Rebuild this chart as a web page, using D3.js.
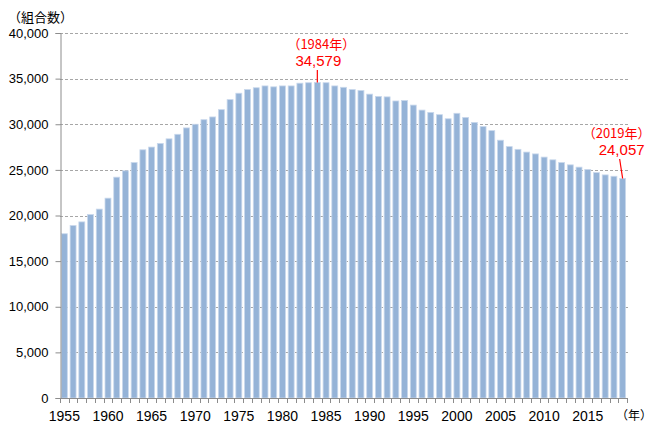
<!DOCTYPE html>
<html><head><meta charset="utf-8">
<script src="https://cdn.jsdelivr.net/npm/d3@7"></script>
<style>body{margin:0;background:#fff;}svg{display:block;}</style>
</head><body>
<svg id="c" width="653" height="425"></svg>
<script>
const years = d3.range(1955, 2020);
const values = [18000,18900,19300,20100,20700,21900,24200,24900,25800,27200,
27500,27900,28400,28900,29600,30000,30500,30800,31600,32700,
33400,33800,34000,34200,34100,34200,34200,34500,34550,34579,
34550,34200,34050,33800,33700,33300,33050,33000,32550,32600,
32100,31550,31300,31050,30600,31200,30750,30200,29750,29300,
28250,27550,27250,26950,26750,26400,26100,25800,25550,25300,
25050,24700,24450,24300,24057];
const yTicks = [0,5000,10000,15000,20000,25000,30000,35000,40000];
const xLabelYears = [1955,1960,1965,1970,1975,1980,1985,1990,1995,2000,2005,2010,2015];
const annotations = [
  {year:1984, value:34579, label:"（1984年）", valueText:"34,579"},
  {year:2019, value:24057, label:"（2019年）", valueText:"24,057"}
];

(function(){
const svg = d3.select("#c");
const mLeft = 60, mRight = 627, mTop = 33, mBottom = 398;
const x = d3.scaleBand().domain(years).range([mLeft, mRight]).paddingInner(0.32).paddingOuter(0.16);
const y = d3.scaleLinear().domain([0, 40000]).range([mBottom, mTop]);
const fontNum = "'Liberation Sans', Arial, sans-serif";
const fontJP = "'Noto Sans CJK JP', sans-serif";

// gridlines
svg.append("g").selectAll("line").data(yTicks.filter(d => d > 0)).join("line")
  .attr("x1", mLeft).attr("x2", mRight + 1)
  .attr("y1", d => Math.round(y(d)) + 0.5).attr("y2", d => Math.round(y(d)) + 0.5)
  .attr("stroke", "#a6a6a6").attr("stroke-width", 1).attr("stroke-dasharray", "3,2");

// bars
svg.append("g").selectAll("rect").data(years).join("rect")
  .attr("x", d => x(d))
  .attr("width", x.bandwidth())
  .attr("y", (d, i) => y(values[i]))
  .attr("height", (d, i) => mBottom - y(values[i]))
  .attr("fill", "#95b3d7")
  .attr("stroke", "#c9d8ec").attr("stroke-width", 0.8);

// y axis
const yAxis = d3.axisLeft(y).tickValues(yTicks).tickSize(5).tickPadding(7)
  .tickFormat(d3.format(","));
const gy = svg.append("g").attr("transform", `translate(${mLeft + 0.5},0)`).call(yAxis);
gy.select(".domain").attr("stroke", "#8c8c8c");
gy.selectAll(".tick line").attr("stroke", "#8c8c8c");
gy.selectAll(".tick text").attr("font-family", fontNum).attr("font-size", 13).attr("fill", "#000");

// x axis line and minor ticks
svg.append("line").attr("x1", mLeft).attr("x2", mRight + 0.5)
  .attr("y1", mBottom + 0.5).attr("y2", mBottom + 0.5).attr("stroke", "#8c8c8c");
const tickPos = years.map(d => x(d) - x.step() * x.paddingInner() / 2).concat([mRight]);
svg.append("g").selectAll("line").data(tickPos).join("line")
  .attr("x1", d => Math.round(d) + 0.5).attr("x2", d => Math.round(d) + 0.5)
  .attr("y1", mBottom).attr("y2", mBottom + 5).attr("stroke", "#8c8c8c");

// x labels
svg.append("g").selectAll("text").data(xLabelYears).join("text")
  .attr("x", d => x(d) + x.bandwidth() / 2)
  .attr("y", 421)
  .attr("text-anchor", "middle")
  .attr("font-family", fontNum).attr("font-size", 14).attr("fill", "#000")
  .text(d => d);

svg.append("text").attr("x", 652).attr("y", 420).attr("text-anchor", "end")
  .attr("font-family", fontJP).attr("font-size", 12).attr("fill", "#000").text("（年）");
svg.append("text").attr("x", 8).attr("y", 22)
  .attr("font-family", fontJP).attr("font-size", 13).attr("fill", "#000").text("（組合数）");

// annotations
const a1 = annotations[0];
const cx1 = x(a1.year) + x.bandwidth() / 2;
svg.append("line").attr("x1", cx1).attr("x2", cx1).attr("y1", 70).attr("y2", y(a1.value))
  .attr("stroke", "#ff0000").attr("stroke-width", 1.2);
svg.append("text").attr("x", cx1 + 4).attr("y", 49).attr("text-anchor", "middle")
  .attr("font-family", fontJP).attr("font-size", 13).attr("fill", "#ff0000").text(a1.label);
svg.append("text").attr("x", cx1 + 1).attr("y", 66).attr("text-anchor", "middle")
  .attr("font-family", fontNum).attr("font-size", 15).attr("fill", "#ff0000").text(a1.valueText);

const a2 = annotations[1];
const cx2 = x(a2.year) + x.bandwidth() / 2;
svg.append("line").attr("x1", cx2 - 3).attr("x2", cx2).attr("y1", 159).attr("y2", y(a2.value))
  .attr("stroke", "#ff0000").attr("stroke-width", 1.2);
svg.append("text").attr("x", cx2 - 6).attr("y", 138).attr("text-anchor", "middle")
  .attr("font-family", fontJP).attr("font-size", 13).attr("fill", "#ff0000").text(a2.label);
svg.append("text").attr("x", cx2 - 1).attr("y", 155).attr("text-anchor", "middle")
  .attr("font-family", fontNum).attr("font-size", 15).attr("fill", "#ff0000").text(a2.valueText);
})();
</script>
</body></html>
